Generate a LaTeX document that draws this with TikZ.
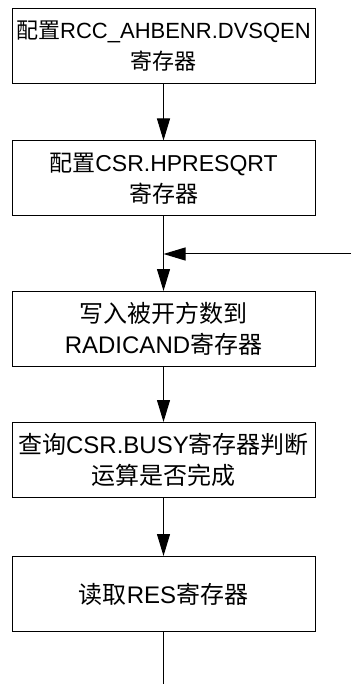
\documentclass[tikz,border=0pt]{standalone}
\usepackage{fontspec}
\setmainfont{Liberation Sans}
\newfontfamily\cjk{Noto Sans CJK SC}
\usetikzlibrary{arrows.meta}
\newcommand\zh[1]{{\cjk #1}}
\begin{document}
\begin{tikzpicture}[x=1pt,y=-1pt,
  box/.style={draw, line width=1pt, minimum width=303pt, minimum height=75pt,
    inner sep=1pt, align=center, font=\fontsize{24}{31}\selectfont},
  flow/.style={line width=1pt, -{Triangle[length=22pt,width=13pt]}},
  plain/.style={line width=1pt}]
\useasboundingbox (0,0) rectangle (351,684);
\node[box, font=\fontsize{22}{31}\selectfont] (b1) at (163.5,46.5) {\zh{配置}RCC\_AHBENR.DVSQEN\\\zh{寄存器}};
\node[box, font=\fontsize{23}{31}\selectfont] (b2) at (163.5,178.5) {\zh{配置}CSR.HPRESQRT\\\zh{寄存器}};
\node[box] (b3) at (163.5,329) {\zh{写入被开方数到}\\RADICAND\zh{寄存器}};
\node[box] (b4) at (163.5,460) {\zh{查询}CSR.BUSY\zh{寄存器判断}\\\zh{运算是否完成}};
\node[box] (b5) at (163.5,594) {\zh{读取}RES\zh{寄存器}};
\coordinate (fb) at (351,254);
\coordinate (join) at (b2.south |- fb);
\coordinate (end) at (163.5,684);
\draw[flow] (b1) -- (b2);
\draw[flow] (b2) -- (b3);
\draw[flow] (fb) -- (join);
\draw[flow] (b3) -- (b4);
\draw[flow] (b4) -- (b5);
\draw[plain] (b5) -- (end);
\end{tikzpicture}
\end{document}
